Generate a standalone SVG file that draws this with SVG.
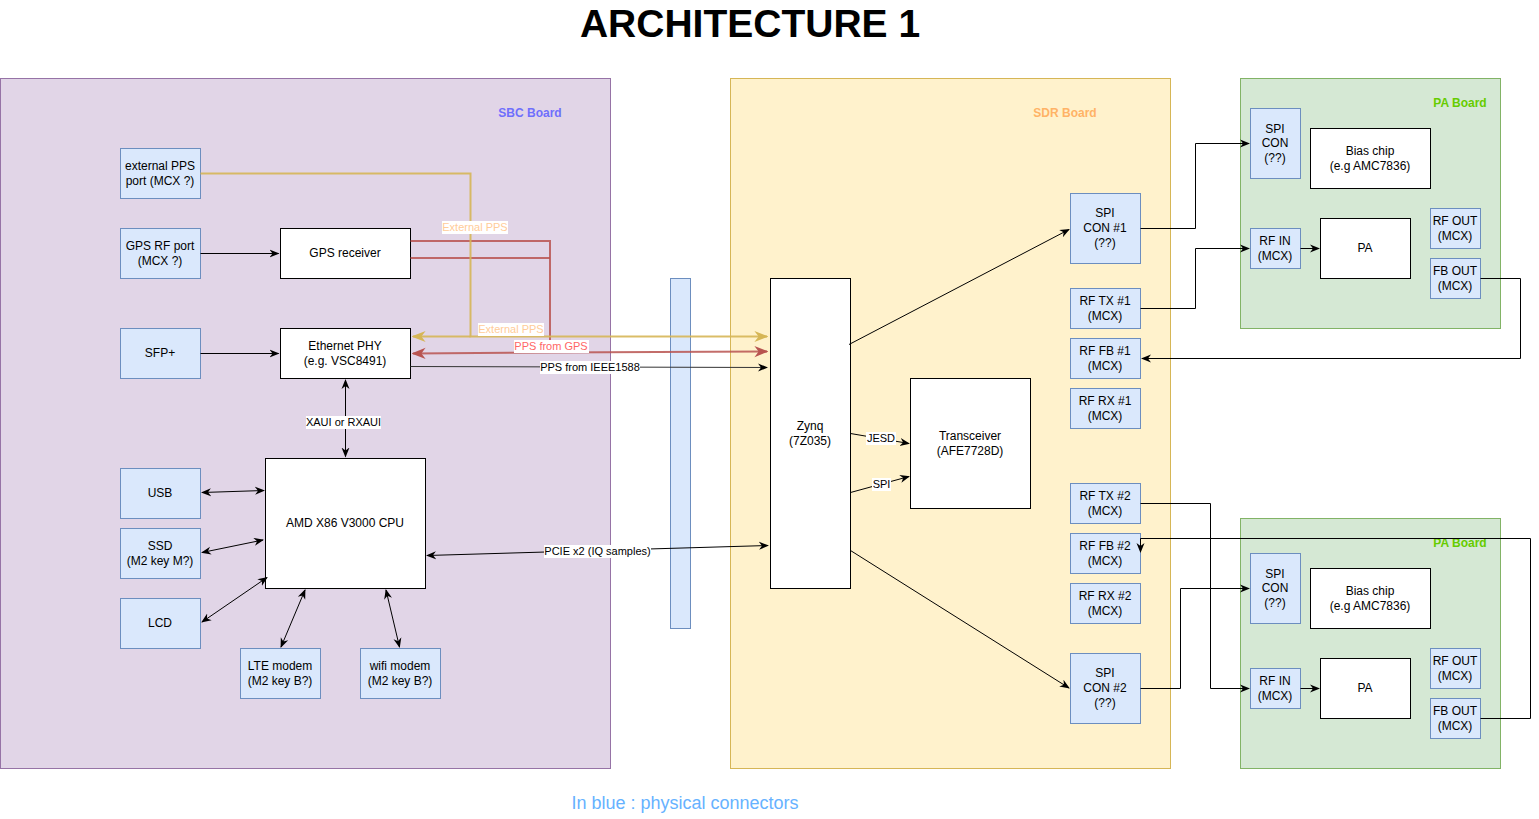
<svg xmlns="http://www.w3.org/2000/svg" width="1539" height="819" viewBox="0 0 1539 819">
<style>
text{font-family:"Liberation Sans",Arial,sans-serif;font-size:12px;fill:#000;text-anchor:middle}
.blue{fill:#dae8fc;stroke:#6c8ebf;stroke-width:1}
.white{fill:#fff;stroke:#000;stroke-width:1}
.e{fill:none;stroke:#000;stroke-width:1}
.lbl{font-size:11px}
.lbg{fill:#fff}
.board{font-weight:bold;font-size:12px}
</style>
<defs>
<marker id="a" viewBox="0 0 10 10" refX="9" refY="5" markerWidth="10" markerHeight="10" orient="auto-start-reverse" markerUnits="userSpaceOnUse"><path d="M0,1 L10,5 L0,9 L3,5 z" fill="#000"/></marker>
<marker id="ay" viewBox="0 0 10 10" refX="9" refY="5" markerWidth="14" markerHeight="14" orient="auto-start-reverse" markerUnits="userSpaceOnUse"><path d="M0,1 L10,5 L0,9 L3,5 z" fill="#d6b656"/></marker>
<marker id="ar" viewBox="0 0 10 10" refX="9" refY="5" markerWidth="14" markerHeight="14" orient="auto-start-reverse" markerUnits="userSpaceOnUse"><path d="M0,1 L10,5 L0,9 L3,5 z" fill="#b85450"/></marker>
</defs>
<rect width="1539" height="819" fill="#fff"/>
<text x="750" y="37" style="font-size:39px;font-weight:bold">ARCHITECTURE 1</text>

<g id="sbc-board"><rect x="0.5" y="78.5" width="610" height="690" fill="#e1d5e7" stroke="#9673a6"/><text class="board" x="530" y="117" style="fill:#6f6ffc">SBC Board</text></g>
<g id="sdr-board"><rect x="730.5" y="78.5" width="440" height="690" fill="#fff2cc" stroke="#d6b656"/><text class="board" x="1065" y="117" style="fill:#ffb366">SDR Board</text></g>
<g id="pa-board-1"><rect x="1240.5" y="78.5" width="260" height="250" fill="#d5e8d4" stroke="#82b366"/><text class="board" x="1460" y="107" style="fill:#66cc00">PA Board</text></g>
<g id="pa-board-2"><rect x="1240.5" y="518.5" width="260" height="250" fill="#d5e8d4" stroke="#82b366"/><text class="board" x="1460" y="547" style="fill:#66cc00">PA Board</text></g>

<g id="connector-bar"><rect class="blue" x="670.5" y="278.5" width="20" height="350"/></g>

<g id="ext-pps"><rect class="blue" x="120.5" y="148.5" width="80" height="50"/><text x="160" y="170">external PPS</text><text x="160" y="185">port (MCX ?)</text></g>
<g id="gps-rf"><rect class="blue" x="120.5" y="228.5" width="80" height="50"/><text x="160" y="250">GPS RF port</text><text x="160" y="265">(MCX ?)</text></g>
<g id="sfp"><rect class="blue" x="120.5" y="328.5" width="80" height="50"/><text x="160" y="357">SFP+</text></g>
<g id="usb"><rect class="blue" x="120.5" y="468.5" width="80" height="50"/><text x="160" y="497">USB</text></g>
<g id="ssd"><rect class="blue" x="120.5" y="528.5" width="80" height="50"/><text x="160" y="550">SSD</text><text x="160" y="565">(M2 key M?)</text></g>
<g id="lcd"><rect class="blue" x="120.5" y="598.5" width="80" height="50"/><text x="160" y="627">LCD</text></g>
<g id="lte"><rect class="blue" x="240.5" y="648.5" width="80" height="50"/><text x="280" y="670">LTE modem</text><text x="280" y="685">(M2 key B?)</text></g>
<g id="wifi"><rect class="blue" x="360.5" y="648.5" width="80" height="50"/><text x="400" y="670">wifi modem</text><text x="400" y="685">(M2 key B?)</text></g>
<g id="gps-rx"><rect class="white" x="280.5" y="228.5" width="130" height="50"/><text x="345" y="257">GPS receiver</text></g>
<g id="eth-phy"><rect class="white" x="280.5" y="328.5" width="130" height="50"/><text x="345" y="350">Ethernet PHY</text><text x="345" y="365">(e.g. VSC8491)</text></g>
<g id="cpu"><rect class="white" x="265.5" y="458.5" width="160" height="130"/><text x="345" y="527">AMD X86 V3000 CPU</text></g>

<g id="zynq"><rect class="white" x="770.5" y="278.5" width="80" height="310"/><text x="810" y="430">Zynq</text><text x="810" y="445">(7Z035)</text></g>
<g id="transceiver"><rect class="white" x="910.5" y="378.5" width="120" height="130"/><text x="970" y="440">Transceiver</text><text x="970" y="455">(AFE7728D)</text></g>
<g id="spi-con-1"><rect class="blue" x="1070.5" y="193.5" width="70" height="70"/><text x="1105" y="217">SPI</text><text x="1105" y="232">CON #1</text><text x="1105" y="247">(??)</text></g>
<g id="rf-tx-1"><rect class="blue" x="1070.5" y="288.5" width="70" height="40"/><text x="1105" y="305">RF TX #1</text><text x="1105" y="320">(MCX)</text></g>
<g id="rf-fb-1"><rect class="blue" x="1070.5" y="338.5" width="70" height="40"/><text x="1105" y="355">RF FB #1</text><text x="1105" y="370">(MCX)</text></g>
<g id="rf-rx-1"><rect class="blue" x="1070.5" y="388.5" width="70" height="40"/><text x="1105" y="405">RF RX #1</text><text x="1105" y="420">(MCX)</text></g>
<g id="rf-tx-2"><rect class="blue" x="1070.5" y="483.5" width="70" height="40"/><text x="1105" y="500">RF TX #2</text><text x="1105" y="515">(MCX)</text></g>
<g id="rf-fb-2"><rect class="blue" x="1070.5" y="533.5" width="70" height="40"/><text x="1105" y="550">RF FB #2</text><text x="1105" y="565">(MCX)</text></g>
<g id="rf-rx-2"><rect class="blue" x="1070.5" y="583.5" width="70" height="40"/><text x="1105" y="600">RF RX #2</text><text x="1105" y="615">(MCX)</text></g>
<g id="spi-con-2"><rect class="blue" x="1070.5" y="653.5" width="70" height="70"/><text x="1105" y="677">SPI</text><text x="1105" y="692">CON #2</text><text x="1105" y="707">(??)</text></g>

<g id="pa1-spi"><rect class="blue" x="1250.5" y="108.5" width="50" height="70"/><text x="1275" y="133">SPI</text><text x="1275" y="147">CON</text><text x="1275" y="162">(??)</text></g>
<g id="pa1-bias"><rect class="white" x="1310.5" y="128.5" width="120" height="60"/><text x="1370" y="155">Bias chip</text><text x="1370" y="170">(e.g AMC7836)</text></g>
<g id="pa1-rfin"><rect class="blue" x="1250.5" y="228.5" width="50" height="40"/><text x="1275" y="245">RF IN</text><text x="1275" y="260">(MCX)</text></g>
<g id="pa1-pa"><rect class="white" x="1320.5" y="218.5" width="90" height="60"/><text x="1365" y="252">PA</text></g>
<g id="pa1-rfout"><rect class="blue" x="1430.5" y="208.5" width="50" height="40"/><text x="1455" y="225">RF OUT</text><text x="1455" y="240">(MCX)</text></g>
<g id="pa1-fbout"><rect class="blue" x="1430.5" y="258.5" width="50" height="40"/><text x="1455" y="275">FB OUT</text><text x="1455" y="290">(MCX)</text></g>

<g id="pa2-spi"><rect class="blue" x="1250.5" y="553.5" width="50" height="70"/><text x="1275" y="578">SPI</text><text x="1275" y="592">CON</text><text x="1275" y="607">(??)</text></g>
<g id="pa2-bias"><rect class="white" x="1310.5" y="568.5" width="120" height="60"/><text x="1370" y="595">Bias chip</text><text x="1370" y="610">(e.g AMC7836)</text></g>
<g id="pa2-rfin"><rect class="blue" x="1250.5" y="668.5" width="50" height="40"/><text x="1275" y="685">RF IN</text><text x="1275" y="700">(MCX)</text></g>
<g id="pa2-pa"><rect class="white" x="1320.5" y="658.5" width="90" height="60"/><text x="1365" y="692">PA</text></g>
<g id="pa2-rfout"><rect class="blue" x="1430.5" y="648.5" width="50" height="40"/><text x="1455" y="665">RF OUT</text><text x="1455" y="680">(MCX)</text></g>
<g id="pa2-fbout"><rect class="blue" x="1430.5" y="698.5" width="50" height="40"/><text x="1455" y="715">FB OUT</text><text x="1455" y="730">(MCX)</text></g>

<g id="connectors">
<path class="e" d="M200.5,253.5 H278.5" marker-end="url(#a)"/>
<path class="e" d="M200.5,353.5 H278.5" marker-end="url(#a)"/>
<path class="e" d="M345.5,380 V456.5" marker-start="url(#a)" marker-end="url(#a)"/>
<path class="e" d="M202,492.5 L264,490.5" marker-start="url(#a)" marker-end="url(#a)"/>
<path class="e" d="M202,552.5 L263,540" marker-start="url(#a)" marker-end="url(#a)"/>
<path class="e" d="M202,622 L267,577.5" marker-start="url(#a)" marker-end="url(#a)"/>
<path class="e" d="M281,647 L305,590" marker-start="url(#a)" marker-end="url(#a)"/>
<path class="e" d="M399.5,647 L386,590" marker-start="url(#a)" marker-end="url(#a)"/>
<path class="e" d="M427,555.5 L768,545.5" marker-start="url(#a)" marker-end="url(#a)"/>

<path d="M410.5,241 H550 V352" fill="none" stroke="#b85450" stroke-width="2" stroke-opacity="0.85"/>
<path d="M410.5,258 H550" fill="none" stroke="#b85450" stroke-width="2" stroke-opacity="0.85"/>
<path d="M200.5,173.5 H470.5 V336.5 H767" fill="none" stroke="#d6b656" stroke-width="2" stroke-opacity="0.9" marker-end="url(#ay)"/>
<path d="M470.5,336.5 H413" fill="none" stroke="#d6b656" stroke-width="2" stroke-opacity="0.9" marker-end="url(#ay)"/>
<path d="M550,352.5 L413,353.5" fill="none" stroke="#b85450" stroke-width="2" stroke-opacity="0.85" marker-end="url(#ar)"/>
<path d="M550,352.5 L767,351.5" fill="none" stroke="#b85450" stroke-width="2" stroke-opacity="0.85" marker-end="url(#ar)"/>
<path d="M410.5,366.5 L767,367.5" fill="none" stroke="#333" stroke-width="1" marker-end="url(#a)"/>

<path class="e" d="M849,344.5 L1069,229.5" marker-end="url(#a)"/>
<path class="e" d="M850.5,550.5 L1069,688" marker-end="url(#a)"/>
<path class="e" d="M850.5,433.5 L909,443.5" marker-end="url(#a)"/>
<path class="e" d="M850.5,492.5 L909,476.5" marker-end="url(#a)"/>

<path class="e" d="M1140.5,228.5 H1195.5 V143.5 H1249" marker-end="url(#a)"/>
<path class="e" d="M1140.5,308.5 H1195.5 V248.5 H1249" marker-end="url(#a)"/>
<path class="e" d="M1300.5,248.5 H1319" marker-end="url(#a)"/>
<path class="e" d="M1480.5,278.5 H1520.5 V358.5 H1142" marker-end="url(#a)"/>
<path class="e" d="M1140.5,503.5 H1210.5 V688.5 H1249" marker-end="url(#a)"/>
<path class="e" d="M1140.5,688.5 H1180.5 V588.5 H1249" marker-end="url(#a)"/>
<path class="e" d="M1300.5,688.5 H1319" marker-end="url(#a)"/>
<path class="e" d="M1480.5,718.5 H1530.5 V538.5 H1140.5 V552" marker-end="url(#a)"/>

<rect class="lbg" x="442" y="221" width="66" height="13"/><text class="lbl" x="475" y="231" style="fill:#ffcc99">External PPS</text>
<rect class="lbg" x="478" y="323" width="66" height="13"/><text class="lbl" x="511" y="333" style="fill:#ffcc99">External PPS</text>
<rect class="lbg" x="514" y="340" width="75" height="13"/><text class="lbl" x="551" y="350" style="fill:#ff6666">PPS from GPS</text>
<rect class="lbg" x="540" y="361" width="100" height="13"/><text class="lbl" x="590" y="371">PPS from IEEE1588</text>
<rect class="lbg" x="306" y="416" width="75" height="13"/><text class="lbl" x="343.5" y="426">XAUI or RXAUI</text>
<rect class="lbg" x="544" y="545" width="107" height="13"/><text class="lbl" x="597.5" y="555">PCIE x2 (IQ samples)</text>
<rect class="lbg" x="866" y="432" width="30" height="13"/><text class="lbl" x="881" y="442">JESD</text>
<rect class="lbg" x="872" y="478" width="19" height="13"/><text class="lbl" x="881.5" y="488">SPI</text>
</g>

<text x="685" y="809" style="font-size:18px;fill:#66b2ff">In blue : physical connectors</text>
</svg>
